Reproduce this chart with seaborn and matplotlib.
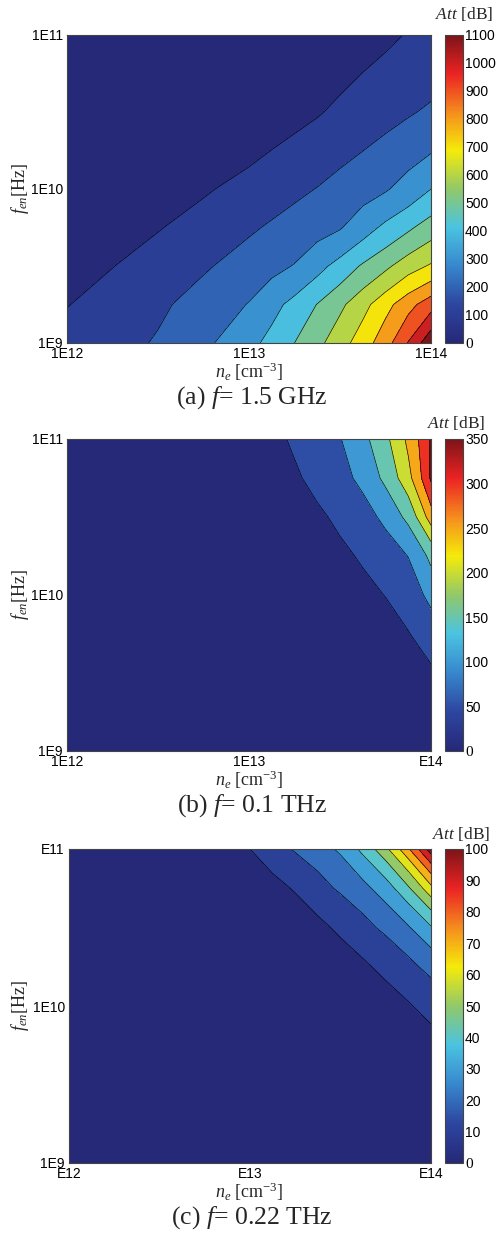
import numpy as np
import matplotlib
matplotlib.use('Agg')
import matplotlib.pyplot as plt
import seaborn as sns
from matplotlib.colors import Normalize
from matplotlib.cm import ScalarMappable
from matplotlib.ticker import FixedLocator, FixedFormatter

# ------------------------------
# data (Att in dB on a log10 grid)
# ------------------------------
log_ne = [12.0, 12.25, 12.5, 12.75, 13.0, 13.125, 13.25, 13.375, 13.5, 13.625, 13.75, 13.875, 14.0]
log_fen = [9.0, 9.25, 9.5, 9.75, 10.0, 10.25, 10.5, 10.75, 11.0]

# (a) f = 1.5 GHz, rows go from fen = 1E9 up to 1E11
att_a = [
    [135, 169, 209, 280, 372, 431, 500, 574, 659, 752, 860, 1006, 1180],
    [97, 140, 184, 240, 305, 368, 433, 503, 579, 667, 767, 865, 960],
    [60, 98, 144, 189, 244, 273, 305, 368, 438, 513, 579, 657, 712],
    [40, 65, 95, 141, 187, 212, 239, 266, 293, 356, 424, 483, 550],
    [25, 40, 60, 90, 135, 158, 180, 203, 233, 262, 291, 340, 400],
    [15, 25, 38, 55, 80, 101, 125, 150, 175, 199, 230, 261, 293],
    [10, 16, 25, 37, 52, 63, 75, 93, 119, 143, 167, 191, 215],
    [7, 11, 17, 26, 37, 45, 55, 66, 80, 101, 122, 143, 165],
    [5, 8, 12, 18, 27, 33, 40, 48, 58, 70, 85, 105, 125],
]

# (b) f = 0.1 THz
att_b = [
    [2, 2, 3, 3, 4, 5, 6, 7, 9, 11, 14, 17, 22],
    [2, 3, 3, 4, 5, 6, 7, 9, 11, 14, 18, 23, 30],
    [3, 3, 4, 5, 7, 8, 10, 12, 15, 19, 24, 32, 44],
    [3, 4, 5, 7, 9, 11, 13, 17, 21, 27, 36, 48, 76],
    [4, 5, 7, 9, 12, 15, 19, 24, 31, 40, 51, 75, 115],
    [5, 7, 9, 12, 17, 21, 26, 33, 42, 55, 78, 101, 165],
    [6, 8, 11, 15, 22, 28, 35, 43, 59, 82, 112, 166, 279],
    [7, 10, 14, 19, 27, 35, 44, 64, 85, 113, 164, 235, 358],
    [8, 11, 15, 21, 30, 39, 57, 77, 98, 137, 189, 262, 355],
]

# (c) f = 0.22 THz
att_c = [
    [0.004, 0.009, 0.017, 0.034, 0.07, 0.1, 0.14, 0.19, 0.27, 0.39, 0.55, 0.77, 1.1],
    [0.008, 0.016, 0.031, 0.063, 0.125, 0.18, 0.25, 0.35, 0.5, 0.71, 1.0, 1.42, 2.0],
    [0.015, 0.03, 0.06, 0.12, 0.24, 0.33, 0.47, 0.67, 0.95, 1.34, 1.9, 2.7, 3.8],
    [0.027, 0.055, 0.11, 0.22, 0.44, 0.62, 0.88, 1.25, 1.77, 2.5, 3.5, 5.0, 7.0],
    [0.05, 0.1, 0.2, 0.41, 0.82, 1.16, 1.65, 2.3, 3.3, 4.6, 6.6, 9.3, 13.5],
    [0.096, 0.19, 0.38, 0.77, 1.55, 2.2, 3.1, 4.4, 6.2, 8.7, 12.5, 17.5, 23.3],
    [0.18, 0.36, 0.72, 1.45, 2.9, 4.1, 5.7, 8.1, 11.8, 17.0, 22.6, 29.2, 39.3],
    [0.34, 0.67, 1.35, 2.7, 5.4, 7.6, 10.8, 16.4, 21.8, 27.3, 35.4, 48.8, 67.5],
    [0.63, 1.25, 2.5, 5.0, 10.0, 15.7, 21.2, 26.0, 31.7, 43.0, 57.8, 79.0, 106.0],
]

att_max = [1100, 350, 100]
att_step = [100, 50, 10]
xtick_labels = [['1E12', '1E13', '1E14'], ['1E12', '1E13', 'E14'], ['E12', 'E13', 'E14']]
ytick_labels = [['1E9', '1E10', '1E11'], ['1E9', '1E10', '1E11'], ['1E9', '1E10', 'E11']]
captions = [r'(a) $f$= 1.5 GHz', r'(b) $f$= 0.1 THz', r'(c) $f$= 0.22 THz']

# ------------------------------
# style
# ------------------------------
sns.set_style("ticks")
plt.rcParams['font.family'] = ['Liberation Sans', 'DejaVu Sans']
plt.rcParams['mathtext.fontset'] = 'custom'
plt.rcParams['mathtext.rm'] = 'Liberation Serif'
plt.rcParams['mathtext.it'] = 'Liberation Serif:italic'
plt.rcParams['mathtext.bf'] = 'Liberation Serif:bold'

# jet as it looks in the printed scan
jet_scan = ['#262878', '#2d46a0', '#3787cd', '#4bc3e1', '#91c869',
            '#f5eb0a', '#f58c1e', '#eb2323', '#7d1419']
cmap = sns.blend_palette(jet_scan, n_colors=64, as_cmap=True)

W, H = 500, 1237
fig = plt.figure(figsize=(W / 100, H / 100), dpi=100)

# pixel boxes: left, top, right, bottom
ax_boxes = [(67, 35, 431, 343), (67, 439, 431, 751), (69, 849, 431, 1163)]
cb_x = (445, 463)
att_label_pos = [(464, 14), (456, 423), (461, 834)]


def frac_box(l, t, r, b):
    return [l / W, 1 - b / H, (r - l) / W, (b - t) / H]


X, Y = np.meshgrid(log_ne, log_fen)
minor = np.log10(np.arange(2, 10))
x_minor = np.concatenate([12 + minor, 13 + minor])
y_minor = np.concatenate([9 + minor, 10 + minor])

for i, att in enumerate([att_a, att_b, att_c]):
    l, t, r, b = ax_boxes[i]
    ax = fig.add_axes(frac_box(l, t, r, b))
    Z = np.array(att, dtype=float)
    step = att_step[i]
    vmax = att_max[i]
    levels = np.arange(0, vmax + 2 * step, step)
    # contour in log10(Att) so the lines come out smooth; first level stands for 0
    log_levels = np.log10(np.maximum(levels, 1e-6))
    # each band takes the colour of its lower level (MATLAB contourf style)
    band_colors = [cmap(min(v / vmax, 1.0)) for v in levels[:-1]]
    ax.contourf(X, Y, np.log10(Z), levels=log_levels, colors=band_colors)
    ax.contour(X, Y, np.log10(Z), levels=log_levels[1:], colors='k', linewidths=0.45)
    ax.set_xlim(12, 14)
    ax.set_ylim(9, 11)

    ax.xaxis.set_major_locator(FixedLocator([12, 13, 14]))
    ax.xaxis.set_major_formatter(FixedFormatter(xtick_labels[i]))
    ax.yaxis.set_major_locator(FixedLocator([9, 10, 11]))
    ax.yaxis.set_major_formatter(FixedFormatter(ytick_labels[i]))
    ax.xaxis.set_minor_locator(FixedLocator(x_minor))
    ax.yaxis.set_minor_locator(FixedLocator(y_minor))
    ax.tick_params(which='both', direction='in', top=True, right=True,
                   width=0.6, colors='#222222', labelcolor='black', labelsize=10)
    ax.tick_params(which='major', length=4)
    ax.tick_params(which='minor', length=2.5)
    ax.tick_params(axis='x', pad=3)
    ax.tick_params(axis='y', pad=3)
    for s in ax.spines.values():
        s.set_color('#444444')
        s.set_linewidth(0.8)

    # axis labels and caption (Times style)
    fig.text(249 / W, 1 - (b + 29) / H, r'$n_e\ \mathrm{[cm^{-3}]}$',
             ha='center', va='center', fontsize=13)
    fig.text(20 / W, 1 - ((t + b) / 2) / H, r'$f_{en}\mathrm{[Hz]}$',
             ha='center', va='center', rotation=90, fontsize=13)
    fig.text(252 / W, 1 - (b + 55) / H, captions[i], ha='center', va='center',
             fontsize=18.5, family='Liberation Serif')

    # colour bar
    cax = fig.add_axes(frac_box(cb_x[0], t, cb_x[1], b))
    sm = ScalarMappable(norm=Normalize(0, vmax), cmap=cmap)
    cb = fig.colorbar(sm, cax=cax, ticks=np.arange(0, vmax + 1, step))
    cb.outline.set_edgecolor('#444444')
    cb.outline.set_linewidth(0.8)
    cax.tick_params(direction='in', length=3.5, width=0.6, labelsize=10, pad=1.5,
                    colors='#222222', labelcolor='black')
    cax.minorticks_off()
    zero_lbl = cax.get_yticklabels()[0]
    zero_lbl.set_fontfamily('Liberation Serif')
    zero_lbl.set_fontsize(11)
    ax_x, ax_y = att_label_pos[i]
    fig.text(ax_x / W, 1 - ax_y / H, r'$Att$ [dB]', ha='center', va='center',
             fontsize=12.5, family='Liberation Serif')

fig.savefig('out.png', dpi=100)
